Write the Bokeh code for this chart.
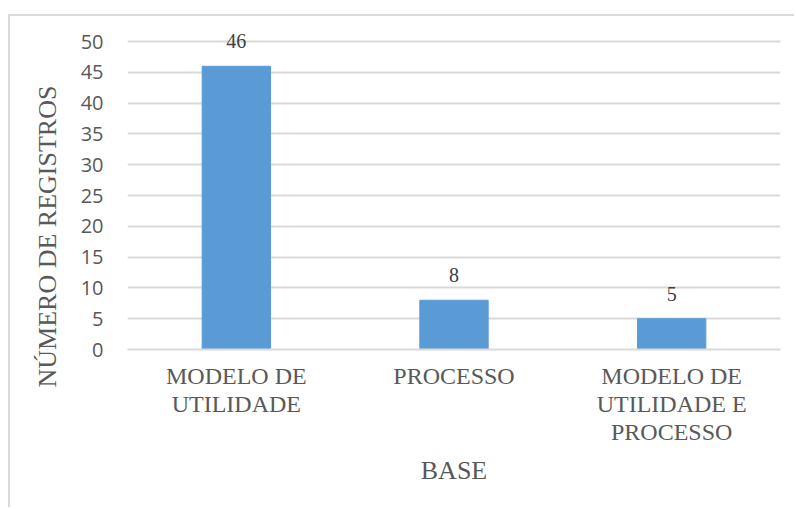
import json
from bokeh.plotting import figure
from bokeh.models import (ColumnDataSource, LabelSet, FixedTicker, Range1d, CategoricalAxis,
                          CustomJSTickFormatter, Title)
from bokeh.embed import file_html
from bokeh.resources import INLINE

categories = ["MODELO DE UTILIDADE", "PROCESSO", "MODELO DE UTILIDADE E PROCESSO"]
label_line1 = ["MODELO DE", "PROCESSO", "MODELO DE"]
label_line2 = ["UTILIDADE", "", "UTILIDADE E"]
label_line3 = ["", "", "PROCESSO"]
values = [46, 8, 5]
y_ticks = [0, 5, 10, 15, 20, 25, 30, 35, 40, 45, 50]
y_top = 50
y_title = "NÚMERO DE REGISTROS"
x_title = "BASE"

GRAY_TEXT = "#595959"
GRID = "#D9D9D9"
BAR = "#5B9BD5"

source = ColumnDataSource(data=dict(cat=categories, val=values, lab=[str(v) for v in values]))

# canvas starts at page (10, 16); frame top canvas y=2, bottom canvas y=331
frame_h = 331 - 2
y_end = y_top * frame_h / (349 - 43)

p = figure(x_range=categories, y_range=Range1d(0, y_end), width=786, height=493,
           output_backend="svg", toolbar_location=None,
           min_border_left=117, min_border_right=16, min_border_top=2, min_border_bottom=160)
p.margin = (14, 0, 0, 8)
p.styles = {"border-top": "2px solid #D9D9D9", "border-left": "2px solid #D9D9D9"}
p.outline_line_color = None
p.background_fill_color = "white"
p.border_fill_color = "white"

p.vbar(x="cat", top="val", width=0.314, source=source, fill_color=BAR, line_color=BAR)

labels = LabelSet(x="cat", y="val", text="lab", source=source, text_align="center",
                  text_baseline="alphabetic", y_offset=18, text_font="Open Sans",
                  text_font_size="20px", text_color="#404040")
p.add_layout(labels)

# y axis
p.yaxis.ticker = FixedTicker(ticks=y_ticks)
p.yaxis.axis_line_color = None
p.yaxis.major_tick_line_color = None
p.yaxis.minor_tick_line_color = None
p.yaxis.major_label_text_font = "Open Sans"
p.yaxis.major_label_text_font_size = "20px"
p.yaxis.major_label_text_color = GRAY_TEXT
p.yaxis.major_label_standoff = 18

ytitle = Title(text=y_title, align="left", offset=-38, text_font="Liberation Serif",
               text_font_size="26px", text_font_style="normal", text_color=GRAY_TEXT,
               standoff=31)
p.add_layout(ytitle, "left")


def style_x(ax, lines, standoff):
    mapping = json.dumps(dict(zip(categories, lines)))
    ax.formatter = CustomJSTickFormatter(code="const m = %s; return (tick in m) ? m[tick] : '';" % mapping)
    ax.major_tick_line_color = None
    ax.minor_tick_line_color = None
    ax.major_label_text_font = "Liberation Serif"
    ax.major_label_text_font_size = "24px"
    ax.major_label_text_color = GRAY_TEXT
    ax.major_label_standoff = standoff


xa1 = p.xaxis[0]
style_x(xa1, label_line1, 7)
xa1.axis_line_color = GRID
xa1.axis_line_width = 2

xa2 = CategoricalAxis()
style_x(xa2, label_line2, -7)
xa2.axis_line_color = None
p.add_layout(xa2, "below")

xa3 = CategoricalAxis()
style_x(xa3, label_line3, -7)
xa3.axis_line_color = None
xa3.axis_label = x_title
xa3.axis_label_text_font = "Liberation Serif"
xa3.axis_label_text_font_style = "normal"
xa3.axis_label_text_font_size = "26px"
xa3.axis_label_text_color = GRAY_TEXT
xa3.axis_label_standoff = 8
p.add_layout(xa3, "below")

p.xgrid.grid_line_color = None
p.ygrid.grid_line_color = GRID
p.ygrid.grid_line_width = 2

open("out.html", "w").write(file_html(p, INLINE))
